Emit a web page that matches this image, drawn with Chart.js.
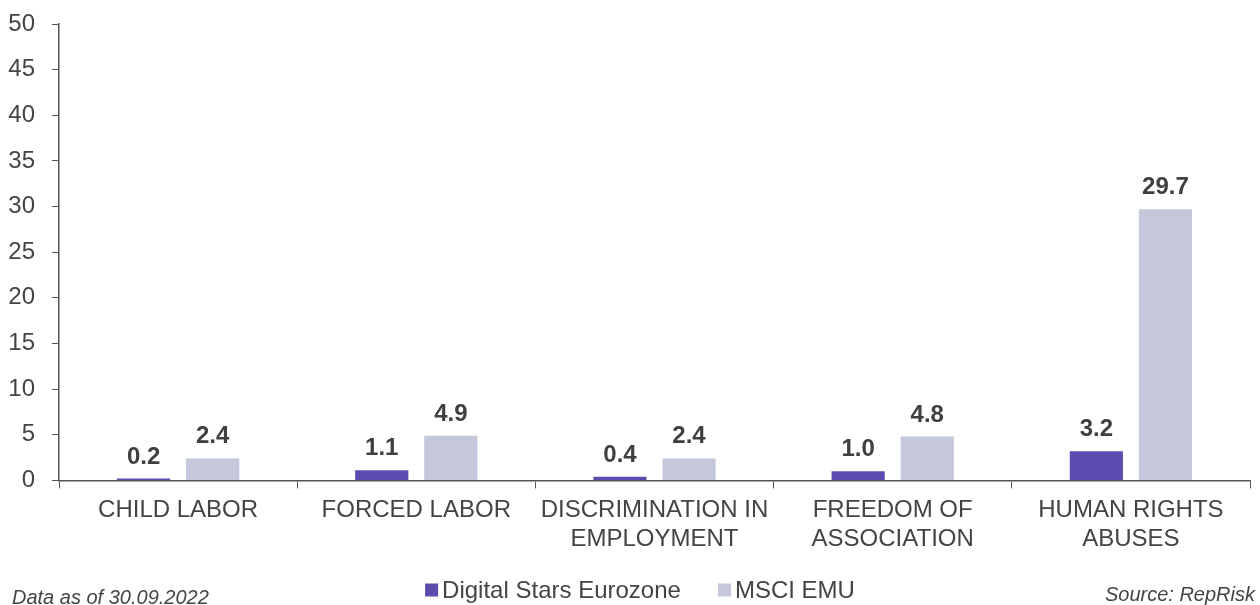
<!DOCTYPE html>
<html>
<head>
<meta charset="utf-8">
<script src="https://cdn.jsdelivr.net/npm/chart.js@4.4.0/dist/chart.umd.min.js"></script>
<style>
  html, body { margin:0; padding:0; background:#fff; }
  #wrap { position:relative; width:1260px; height:605px; overflow:hidden; }
  canvas { position:absolute; left:0; top:0; }
  .foot { position:absolute; font-family:"Liberation Sans", Arial, sans-serif; font-style:italic; font-size:20px; line-height:23px; color:#444; white-space:nowrap; }
</style>
</head>
<body>
<div id="wrap">
  <canvas id="c" width="1260" height="605"></canvas>
  <div class="foot" style="left:12px; top:586px;">Data as of 30.09.2022</div>
  <div class="foot" style="right:5px; top:583px;">Source: RepRisk</div>
</div>
<script>
const categories = [
  ["CHILD LABOR"],
  ["FORCED LABOR"],
  ["DISCRIMINATION IN", "EMPLOYMENT"],
  ["FREEDOM OF", "ASSOCIATION"],
  ["HUMAN RIGHTS", "ABUSES"]
];
const seriesNames = ["Digital Stars Eurozone", "MSCI EMU"];
const digitalStars = [0.2, 1.1, 0.4, 1.0, 3.2];
const msciEmu = [2.4, 4.9, 2.4, 4.8, 29.7];
const yTicks = [0, 5, 10, 15, 20, 25, 30, 35, 40, 45, 50];
const FONT = '"Liberation Sans", Arial, sans-serif';

const labelPlugin = {
  id: 'valueLabels',
  afterDatasetsDraw(chart) {
    const ctx = chart.ctx;
    ctx.save();
    ctx.font = 'bold 24px ' + FONT;
    ctx.fillStyle = '#404040';
    ctx.textAlign = 'center';
    ctx.textBaseline = 'alphabetic';
    chart.data.datasets.forEach((ds, di) => {
      chart.getDatasetMeta(di).data.forEach((bar, i) => {
        ctx.fillText(ds.data[i].toFixed(1), bar.x, bar.y - 15);
      });
    });
    ctx.restore();
  }
};

const legendPlugin = {
  id: 'customLegend',
  afterDraw(chart) {
    const ctx = chart.ctx;
    ctx.save();
    ctx.font = '24px ' + FONT;
    const box = 13, gap = 4, spacing = 37;
    const items = chart.data.datasets.map(ds => ({ text: ds.label, color: ds.backgroundColor, w: ctx.measureText(ds.label).width }));
    let total = items.reduce((s, it) => s + box + gap + it.w, 0) + spacing * (items.length - 1);
    let x = 640 - total / 2;
    const cy = 590;
    items.forEach(it => {
      ctx.fillStyle = it.color;
      ctx.fillRect(x, cy - box / 2, box, box);
      ctx.fillStyle = '#444';
      ctx.textAlign = 'left';
      ctx.textBaseline = 'middle';
      ctx.fillText(it.text, x + box + gap, cy + 1);
      x += box + gap + it.w + spacing;
    });
    ctx.restore();
  }
};

new Chart(document.getElementById('c'), {
  type: 'bar',
  data: {
    labels: categories,
    datasets: [
      { label: seriesNames[0], data: digitalStars, backgroundColor: '#5B4DB0', barPercentage: 0.77, categoryPercentage: 0.58 },
      { label: seriesNames[1], data: msciEmu, backgroundColor: '#C4C8DA', barPercentage: 0.77, categoryPercentage: 0.58 }
    ]
  },
  options: {
    responsive: false,
    animation: false,
    devicePixelRatio: 1,
    layout: { padding: { top: 24, right: 10, left: 8, bottom: 43 } },
    plugins: {
      legend: { display: false },
      tooltip: { enabled: false }
    },
    scales: {
      x: {
        grid: { display: true, drawOnChartArea: false, offset: true, color: '#555', tickLength: 8 },
        border: { display: true, color: '#555', width: 1.5 },
        ticks: {
          color: '#444', maxRotation: 0, autoSkip: false, padding: 8,
          font: { size: 24, family: FONT, lineHeight: 1.2 }
        }
      },
      y: {
        min: 0, max: 50,
        afterBuildTicks(scale) { scale.ticks = yTicks.map(v => ({ value: v })); },
        afterFit(scale) { scale.width = 51; scale.paddingTop = 0; scale.paddingBottom = 0; },
        grid: { display: true, drawOnChartArea: false, color: '#555', tickLength: 7 },
        border: { display: true, color: '#555', width: 1.5 },
        ticks: {
          color: '#444', padding: 17,
          font: { size: 24, family: FONT }
        }
      }
    }
  },
  plugins: [labelPlugin, legendPlugin]
});
</script>
</body>
</html>
